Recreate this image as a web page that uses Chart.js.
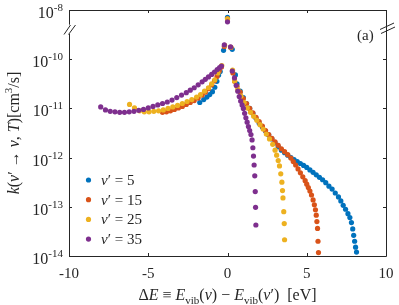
<!DOCTYPE html>
<html>
<head>
<meta charset="utf-8">
<script src="https://cdn.jsdelivr.net/npm/chart.js@4.4.0/dist/chart.umd.min.js"></script>
<style>
  html, body { margin: 0; padding: 0; background: #fff; }
</style>
</head>
<body>
<canvas id="kChart" width="399" height="305"></canvas>
<script>
// axis ticks
const xTicks = [-10, -5, 0, 5, 10];
const yTickExps = [-14, -13, -12, -11, -10, -9];
const yTickLabels = ['-14', '-13', '-12', '-11', '-10', '-8']; // top decade shown after the axis break
const legendValues = ['5', '15', '25', '35'];
const seriesColors = ['#0072BD', '#D95319', '#EDB120', '#7E2F8E'];

// nu' = 5  (Delta E in eV, log10 k)
const dE5 = [-1.75, -1.5, -1.3, -1.12, -0.95, -0.8, -0.67, -0.56, -0.46, -0.25, 0,
  0.3, 0.5, 0.6, 0.8, 1.0, 1.2, 1.4, 1.6, 1.8, 2.0, 2.2, 2.4, 2.6, 2.8, 3.0, 3.2, 3.4, 3.6, 3.8, 4.0,
  4.2, 4.4, 4.6, 4.8, 5.0, 5.2, 5.4, 5.6, 5.8, 6.0, 6.2, 6.4, 6.6, 6.8, 7.0, 7.15, 7.3, 7.45, 7.6,
  7.72, 7.82, 7.9, 7.96, 8.02, 8.08, 8.14];
const logK5 = [-10.88, -10.82, -10.77, -10.72, -10.66, -10.57, -10.45, -10.32, -10.25, -9.82, -9.15,
  -9.8, -10.32, -10.5, -10.65, -10.78, -10.9, -11.0, -11.1, -11.2, -11.3, -11.38, -11.46, -11.54, -11.62, -11.7, -11.78, -11.85, -11.9, -11.95, -12.0,
  -12.04, -12.08, -12.12, -12.16, -12.2, -12.25, -12.3, -12.35, -12.4, -12.45, -12.51, -12.58, -12.64, -12.72, -12.8, -12.88, -12.97, -13.05, -13.14,
  -13.22, -13.32, -13.45, -13.58, -13.7, -13.82, -13.92];

// nu' = 15
const dE15 = [-4.1, -3.85, -3.6, -3.35, -3.1, -2.85, -2.6, -2.35, -2.1, -1.85, -1.6, -1.4, -1.2, -1.0, -0.82, -0.66, -0.52, -0.38, -0.2, 0,
  0.22, 0.34, 0.45, 0.6, 0.8, 1.0, 1.2, 1.4, 1.6, 1.8, 2.0, 2.2, 2.4, 2.6, 2.8, 3.0, 3.2, 3.4, 3.6, 3.8, 4.0,
  4.15, 4.3, 4.45, 4.6, 4.75, 4.9, 5.0, 5.1, 5.2, 5.3, 5.4, 5.48, 5.55, 5.6, 5.64, 5.68, 5.71, 5.74];
const logK15 = [-11.08, -11.07, -11.05, -11.02, -10.99, -10.96, -10.92, -10.88, -10.84, -10.79, -10.73, -10.67, -10.6, -10.52, -10.44, -10.35, -10.24, -10.16, -9.74, -9.18,
  -9.76, -10.28, -10.45, -10.55, -10.67, -10.8, -10.9, -11.0, -11.09, -11.18, -11.27, -11.36, -11.45, -11.53, -11.61, -11.68, -11.75, -11.82, -11.88, -11.94, -12.01,
  -12.08, -12.15, -12.23, -12.31, -12.39, -12.47, -12.54, -12.61, -12.68, -12.76, -12.86, -12.96, -13.06, -13.17, -13.3, -13.44, -13.7, -13.93];

// nu' = 25
const dE25 = [-6.18, -5.87, -5.55, -5.25, -4.95, -4.65, -4.35, -4.05, -3.75, -3.45, -3.15, -2.85, -2.55, -2.25, -1.95, -1.7, -1.45, -1.2, -1.0, -0.8, -0.6, -0.36, -0.18, 0,
  0.2, 0.32, 0.45, 0.65, 0.85, 1.05, 1.25, 1.45, 1.65, 1.85, 2.05, 2.25, 2.45, 2.65, 2.85, 3.0, 3.1, 3.2, 3.28, 3.36, 3.43, 3.47, 3.5, 3.55, 3.58, 3.6];
const logK25 = [-10.92, -10.99, -11.05, -11.07, -11.07, -11.06, -11.05, -11.03, -11.0, -10.97, -10.94, -10.9, -10.86, -10.82, -10.77, -10.72, -10.65, -10.58, -10.5, -10.42, -10.28, -10.13, -9.72, -9.18,
  -9.76, -10.22, -10.45, -10.62, -10.75, -10.88, -10.99, -11.08, -11.16, -11.24, -11.33, -11.42, -11.52, -11.62, -11.73, -11.85, -11.95, -12.06, -12.17, -12.33, -12.5, -12.67, -12.82, -13.1, -13.34, -13.67];

// nu' = 35
const dE35 = [-8.0, -7.7, -7.4, -7.1, -6.8, -6.5, -6.2, -5.9, -5.6, -5.3, -5.0, -4.7, -4.4, -4.1, -3.8, -3.5, -3.2, -2.9, -2.6, -2.35, -2.1, -1.85, -1.6, -1.4, -1.2, -1.0, -0.82, -0.65, -0.5, -0.38, -0.2, 0,
  0.19, 0.3, 0.44, 0.55, 0.65, 0.74, 0.83, 0.92, 1.0, 1.08, 1.16, 1.24, 1.32, 1.4, 1.48, 1.55, 1.6, 1.64, 1.68, 1.72, 1.75, 1.77, 1.79];
const logK35 = [-10.97, -11.03, -11.06, -11.07, -11.08, -11.08, -11.07, -11.06, -11.04, -11.02, -10.99, -10.96, -10.93, -10.9, -10.87, -10.83, -10.78, -10.73, -10.68, -10.63, -10.58, -10.52, -10.46, -10.41, -10.36, -10.31, -10.26, -10.21, -10.17, -10.14, -9.71, -9.24,
  -9.75, -10.24, -10.38, -10.53, -10.65, -10.76, -10.85, -10.93, -11.0, -11.1, -11.19, -11.28, -11.37, -11.45, -11.53, -11.64, -11.8, -11.97, -12.15, -12.37, -12.69, -13.01, -13.37];

const seriesX = [dE5, dE15, dE25, dE35];
const seriesLogK = [logK5, logK15, logK25, logK35];

const SERIF = '"Liberation Serif", "DejaVu Serif", serif';
const AXIS = '#262626';

function toPoints(xs, logs) {
  return xs.map((x, i) => ({ x: x, y: Math.pow(10, logs[i]) }));
}

// draw a row of text pieces: [text, size, italic, dy]
function runsWidth(ctx, runs) {
  let w = 0;
  runs.forEach(r => { ctx.font = (r[2] ? 'italic ' : '') + r[1] + 'px ' + SERIF; w += ctx.measureText(r[0]).width; });
  return w;
}
function drawRuns(ctx, runs, x, y, align) {
  const w = runsWidth(ctx, runs);
  let cx = align === 'center' ? x - w / 2 : (align === 'right' ? x - w : x);
  ctx.textAlign = 'left';
  ctx.textBaseline = 'alphabetic';
  runs.forEach(r => {
    ctx.font = (r[2] ? 'italic ' : '') + r[1] + 'px ' + SERIF;
    ctx.fillText(r[0], cx, y + (r[3] || 0));
    cx += ctx.measureText(r[0]).width;
  });
}

const axesPlugin = {
  id: 'matlabAxes',
  afterDraw(chart) {
    const ctx = chart.ctx;
    const a = chart.chartArea;
    const xs = chart.scales.x, ys = chart.scales.y;
    ctx.save();
    ctx.strokeStyle = AXIS;
    ctx.fillStyle = AXIS;
    ctx.lineWidth = 1;

    // box
    ctx.beginPath();
    ctx.rect(Math.round(a.left) + 0.5, Math.round(a.top) + 0.5, Math.round(a.right - a.left), Math.round(a.bottom - a.top));
    ctx.stroke();

    // x ticks (inward, top and bottom)
    ctx.beginPath();
    xTicks.forEach(v => {
      const px = Math.round(xs.getPixelForValue(v)) + 0.5;
      ctx.moveTo(px, a.bottom); ctx.lineTo(px, a.bottom - 3);
      ctx.moveTo(px, a.top); ctx.lineTo(px, a.top + 3);
    });
    yTickExps.forEach(e => {
      const py = Math.round(ys.getPixelForValue(Math.pow(10, e))) + 0.5;
      ctx.moveTo(a.left, py); ctx.lineTo(a.left + 3, py);
      ctx.moveTo(a.right, py); ctx.lineTo(a.right - 3, py);
    });
    ctx.stroke();

    // x tick labels
    xTicks.forEach(v => {
      const px = xs.getPixelForValue(v);
      drawRuns(ctx, [[String(v), 15, false, 0]], px, a.bottom + 22, 'center');
    });
    // y tick labels 10^n
    yTickExps.forEach((e, i) => {
      const py = ys.getPixelForValue(Math.pow(10, e));
      drawRuns(ctx, [['10', 16, false, 0], [yTickLabels[i], 11, false, -7]], a.left - 6, py + 8, 'right');
    });

    // axis break marks
    ctx.fillStyle = '#fff';
    ctx.beginPath();
    ctx.moveTo(63, 34); ctx.lineTo(70, 24); ctx.lineTo(77, 24); ctx.lineTo(70, 34); ctx.closePath();
    ctx.fill();
    ctx.beginPath();
    ctx.moveTo(64, 34.5); ctx.lineTo(70.5, 25);
    ctx.moveTo(68.5, 34.5); ctx.lineTo(75.5, 25);
    ctx.moveTo(381, 33.5); ctx.lineTo(395, 27);
    ctx.moveTo(380, 29.5); ctx.lineTo(394, 23);
    ctx.stroke();

    ctx.fillStyle = AXIS;
    // panel tag
    drawRuns(ctx, [['(a)', 15, false, 0]], a.right - 29, 40, 'left');

    // x label
    const xl = [['Δ', 16, false, 0], ['E', 16, true, 0], [' ≡ ', 16, false, 0], ['E', 16, true, 0], ['vib', 11, false, 4],
      ['(', 16, false, 0], ['ν', 16, true, 0], [') − ', 16, false, 0], ['E', 16, true, 0], ['vib', 11, false, 4],
      ['(', 16, false, 0], ['ν', 16, true, 0], ['′', 16, false, 0], [')  [eV]', 16, false, 0]];
    drawRuns(ctx, xl, (a.left + a.right) / 2, 300, 'center');

    // y label (rotated)
    ctx.save();
    ctx.translate(19, (a.top + a.bottom) / 2);
    ctx.rotate(-Math.PI / 2);
    const yl = [['k', 16, true, 0], ['(', 16, false, 0], ['ν', 16, true, 0], ['′ → ', 16, false, 0], ['ν', 16, true, 0],
      [', ', 16, false, 0], ['T', 16, true, 0], [')[cm', 16, false, 0], ['3', 11, false, -7], ['/s]', 16, false, 0]];
    drawRuns(ctx, yl, 0, 0, 'center');
    ctx.restore();

    // legend
    legendValues.forEach((v, i) => {
      const ly = 180 + i * 19.7;
      ctx.fillStyle = seriesColors[i];
      ctx.beginPath();
      ctx.arc(88.5, ly, 2.6, 0, Math.PI * 2);
      ctx.fill();
      ctx.fillStyle = AXIS;
      drawRuns(ctx, [['ν', 15, true, 0], ['′ = ' + v, 15, false, 0]], 101, ly + 5, 'left');
    });
    ctx.restore();
  }
};

const datasets = seriesX.map((xs, i) => ({
  label: "nu' = " + legendValues[i],
  data: toPoints(xs, seriesLogK[i]),
  backgroundColor: seriesColors[i],
  borderWidth: 0,
  pointRadius: 2.6,
  pointHoverRadius: 2.6,
  showLine: false,
  order: 4 - i
}));

new Chart(document.getElementById('kChart').getContext('2d'), {
  type: 'scatter',
  data: { datasets: datasets },
  options: {
    responsive: false,
    animation: false,
    devicePixelRatio: 1,
    layout: { padding: { left: 69, right: 13, top: 10, bottom: 49 } },
    plugins: { legend: { display: false }, tooltip: { enabled: false } },
    scales: {
      x: { type: 'linear', min: -10, max: 10, display: false },
      y: { type: 'logarithmic', min: 1e-14, max: 1e-9, display: false }
    }
  },
  plugins: [axesPlugin]
});
</script>
</body>
</html>
